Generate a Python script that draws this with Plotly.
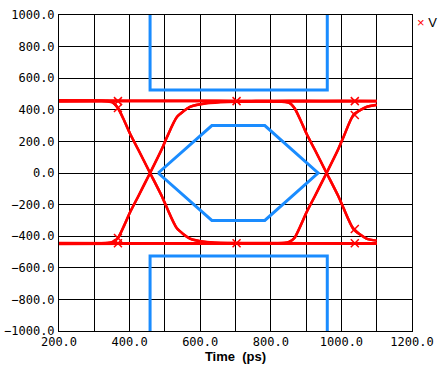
import plotly.graph_objects as go

# ---- data (time in ps, voltage in mV) ----
t_flat = [200, 400, 600, 800, 1000, 1100]
high_a = [460, 458, 456, 455, 457, 456]
high_b = [452, 454, 455, 453, 452, 454]
low_a = [-443, -445, -447, -446, -444, -445]
low_b = [-449, -448, -444, -443, -447, -448]

t_edge1 = [200, 260, 320, 338, 352, 367, 383, 401, 424, 458, 492, 506, 534, 571, 619, 678, 758, 850, 950, 1100]
rise1 = [-446, -447, -445, -444, -436, -411, -340, -250, -150, 0, 155, 228, 354, 418, 443, 452, 455, 457, 456, 455]
fall1 = [458, 459, 457, 455, 447, 411, 340, 250, 150, 0, -150, -222, -350, -415, -438, -446, -448, -447, -446, -445]

t_edge2 = [200, 320, 450, 600, 700, 800, 838, 852, 867, 883, 901, 924, 958, 992, 1006, 1034, 1071, 1100]
rise2 = [-447, -446, -445, -446, -447, -446, -444, -436, -411, -340, -250, -150, 0, 155, 228, 367, 418, 432]
fall2 = [456, 457, 458, 457, 456, 455, 453, 447, 411, 340, 250, 150, 0, -150, -222, -354, -415, -428]

t_pulse = [200, 260, 320, 338, 352, 367, 383, 401, 424, 458, 492, 506, 534, 571, 619, 678, 758,
           820, 838, 852, 867, 883, 901, 924, 958, 992, 1006, 1034, 1071, 1100]
low_pulse = [455, 456, 455, 453, 446, 411, 340, 250, 150, 0, -150, -222, -350, -415, -436, -443, -444,
             -444, -442, -436, -411, -340, -250, -150, 0, 155, 228, 367, 418, 430]
high_pulse = [-444, -445, -444, -442, -436, -411, -340, -250, -150, 0, 155, 228, 354, 418, 441, 450, 452,
              452, 450, 444, 411, 340, 250, 150, 0, -150, -222, -354, -415, -428]

marker_t = [367, 367, 367, 367, 703, 703, 1038, 1038, 1038, 1038]
marker_v = [455, 411, -411, -445, 455, -445, 455, 367, -354, -445]

# eye mask
mask_top_t = [458, 458, 960, 960]
mask_top_v = [1100, 525, 525, 1100]
mask_bot_t = [458, 458, 960, 960]
mask_bot_v = [-1100, -525, -525, -1100]
mask_hex_t = [481, 633, 783, 934, 783, 633, 481]
mask_hex_v = [0, 300, 300, 0, -300, -300, 0]

x_ticks = [200, 400, 600, 800, 1000, 1200]
y_ticks = [-1000, -800, -600, -400, -200, 0, 200, 400, 600, 800, 1000]

RED = "#ff0000"
BLUE = "#1a8cff"

fig = go.Figure()

for t, v in [(mask_top_t, mask_top_v), (mask_bot_t, mask_bot_v), (mask_hex_t, mask_hex_v)]:
    fig.add_trace(go.Scatter(x=t, y=v, mode="lines", line=dict(color=BLUE, width=3),
                             showlegend=False, hoverinfo="skip"))

red_traces = [
    (t_flat, high_a), (t_flat, high_b), (t_flat, low_a), (t_flat, low_b),
    (t_edge1, rise1), (t_edge1, fall1), (t_edge2, rise2), (t_edge2, fall2),
    (t_pulse, low_pulse), (t_pulse, high_pulse),
]
for t, v in red_traces:
    fig.add_trace(go.Scatter(x=t, y=v, mode="lines",
                             line=dict(color=RED, width=2.5, shape="spline", smoothing=0.6),
                             showlegend=False))

fig.add_trace(go.Scatter(x=marker_t, y=marker_v, mode="markers", name="V",
                         marker=dict(symbol="x-thin", size=8, line=dict(color=RED, width=1.5)),
                         showlegend=False))

fig.add_annotation(xref="paper", yref="paper", x=1.008, y=0.975, xanchor="left", yanchor="middle",
                   showarrow=False,
                   text='<span style="color:#ff0000">×</span> V',
                   font=dict(family="Liberation Sans, Arial, sans-serif", size=13, color="black"))

tick_font = dict(family="DejaVu Sans Mono, Liberation Mono, monospace", size=12, color="black")

fig.update_xaxes(range=[200, 1200], tickvals=x_ticks, tickformat=".1f", automargin=False,
                 showgrid=True, gridcolor="black", gridwidth=1,
                 showline=True, linecolor="black", linewidth=1, mirror=True,
                 zeroline=False, ticks="", tickfont=tick_font,
                 title=dict(text="<b>Time  (ps)</b>", standoff=2,
                            font=dict(family="Liberation Sans, Arial, sans-serif", size=13, color="black")))
fig.update_xaxes(minor=dict(showgrid=True, gridcolor="black", gridwidth=1, dtick=100, tick0=200))
fig.update_yaxes(range=[-1000, 1000], tickvals=y_ticks, tickformat=".1f", automargin=False,
                 showgrid=True, gridcolor="black", gridwidth=1,
                 showline=True, linecolor="black", linewidth=1, mirror=True,
                 zeroline=True, zerolinecolor="black", zerolinewidth=1,
                 ticks="", tickfont=tick_font, ticklabelstandoff=1)

fig.update_layout(width=443, height=371, margin=dict(l=59, r=31, t=15, b=40),
                  paper_bgcolor="white", plot_bgcolor="white", showlegend=False)

fig.write_html("out.html", config={"displayModeBar": False},
               post_script="document.body.style.margin='0';")
